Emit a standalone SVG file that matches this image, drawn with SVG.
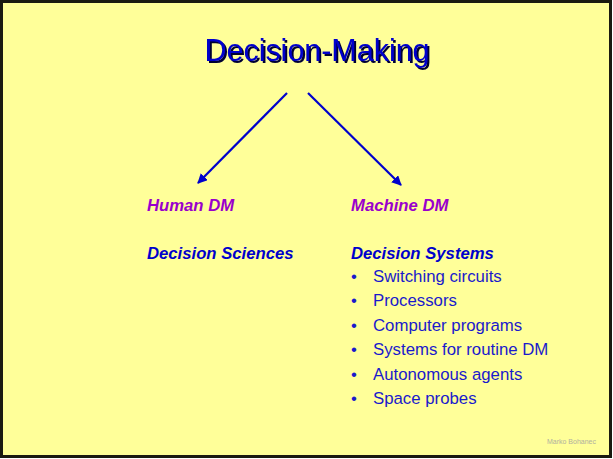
<svg xmlns="http://www.w3.org/2000/svg" width="613" height="459" viewBox="0 0 613 459">
<defs>
<style>
.t{font-family:"Liberation Sans",Arial,sans-serif}
.cat{font-size:16.7px;font-weight:bold;font-style:italic;fill:#9900CC}
.head{font-size:16.7px;font-weight:bold;font-style:italic;fill:#0000CC}
.item{font-size:16.8px;fill:#1A1ACC}
.conn{stroke:#0000CC;stroke-width:2.2;fill:none;marker-end:url(#ah)}
</style>
<filter id="sh" x="-5%" y="-20%" width="115%" height="150%">
<feOffset in="SourceAlpha" dx="2" dy="2" result="o"/>
<feFlood flood-color="#000033"/>
<feComposite in2="o" operator="in" result="s"/>
<feMerge><feMergeNode in="s"/><feMergeNode in="SourceGraphic"/></feMerge>
</filter>
<marker id="ah" viewBox="0 0 10 10" refX="9" refY="5" markerWidth="4.5" markerHeight="4.5" orient="auto" markerUnits="strokeWidth">
<path d="M0,0 L10,5 L0,10 z" fill="#0000CC"/>
</marker>
</defs>
<rect x="1.5" y="1.5" width="609" height="455" fill="#FFFF99" stroke="#1a1a10" stroke-width="3"/>
<g id="title">
<text class="t" x="317" y="61" text-anchor="middle" font-size="32" fill="#0000CC" textLength="225" lengthAdjust="spacingAndGlyphs" filter="url(#sh)">Decision-Making</text>
</g>
<g id="connectors">
<line class="conn" x1="287" y1="93" x2="198" y2="183"/>
<line class="conn" x1="308" y1="93" x2="401" y2="185"/>
</g>
<g id="human">
<text class="t cat" x="147" y="211">Human DM</text>
<text class="t head" x="147" y="259">Decision Sciences</text>
</g>
<g id="machine">
<text class="t cat" x="351" y="211">Machine DM</text>
<text class="t head" x="351" y="259">Decision Systems</text>
<g class="t item">
<text x="351" y="282">•</text><text x="373" y="282">Switching circuits</text>
<text x="351" y="306">•</text><text x="373" y="306">Processors</text>
<text x="351" y="331">•</text><text x="373" y="331">Computer programs</text>
<text x="351" y="355">•</text><text x="373" y="355">Systems for routine DM</text>
<text x="351" y="380">•</text><text x="373" y="380">Autonomous agents</text>
<text x="351" y="404">•</text><text x="373" y="404">Space probes</text>
</g>
</g>
<text class="t" x="596" y="444" text-anchor="end" font-size="7" fill="#B0B0A0">Marko Bohanec</text>
</svg>
